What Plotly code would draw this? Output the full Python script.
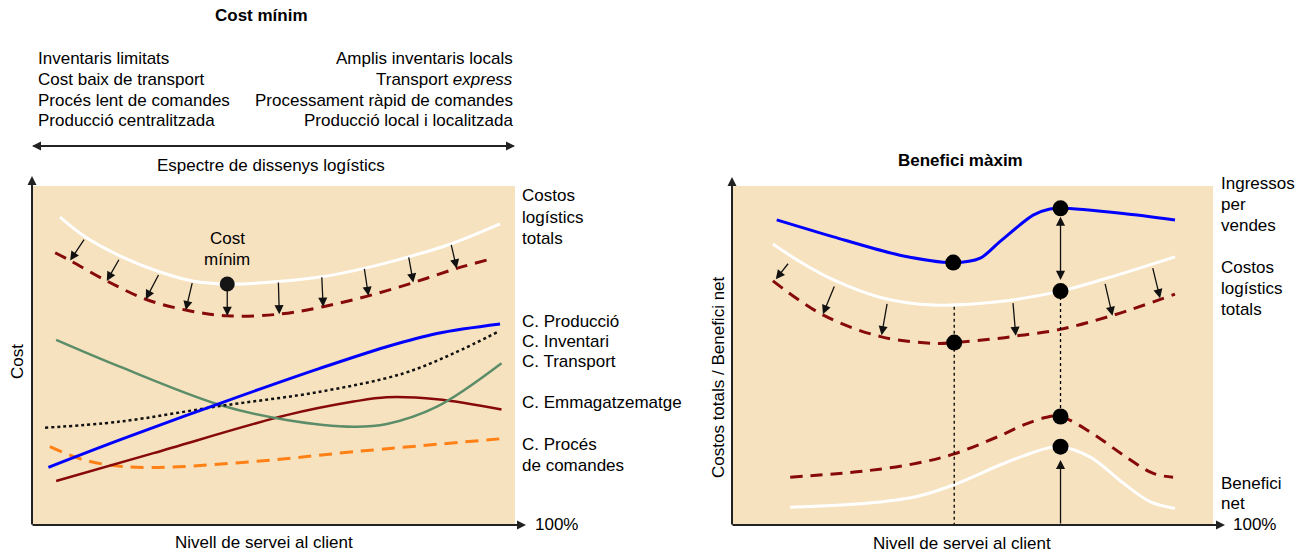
import plotly.graph_objects as go

W, H = 1311, 554
FONT = "Arial, Liberation Sans, sans-serif"
BG = "#F7E2BF"
DARKRED = "#870A0A"

# ---------------- Left panel: cost components vs. service level ----------------
svc_total = [5.6, 10.8, 18.0, 26.2, 33.1, 40.3, 50.9, 59.9, 68.7, 77.9, 86.7, 96.9]
cost_total = [90.8, 85.0, 79.4, 74.7, 72.0, 71.1, 71.8, 73.2, 75.7, 79.1, 82.9, 88.8]
svc_total_opt = [4.6, 7.7, 15.3, 23.4, 31.7, 40.3, 51.1, 60.2, 69.6, 78.9, 87.9, 94.8]
cost_total_opt = [80.3, 78.0, 72.0, 66.6, 63.4, 61.7, 62.2, 64.4, 67.6, 71.5, 75.7, 78.4]

svc_prod = [3.2, 18.0, 38.8, 59.5, 73.4, 83.8, 96.9]
cost_prod = [17.0, 25.1, 35.9, 46.2, 52.6, 56.5, 59.3]
svc_inv = [2.5, 18.0, 38.8, 59.5, 76.8, 87.2, 96.5]
cost_inv = [28.7, 30.5, 35.1, 39.3, 44.7, 50.6, 57.0]
svc_transp = [4.8, 18.0, 38.8, 52.6, 66.5, 73.4, 83.8, 97.2]
cost_transp = [54.6, 46.7, 35.4, 31.0, 29.0, 29.8, 34.9, 47.7]
svc_stock = [4.8, 25.0, 52.6, 66.5, 73.4, 83.8, 97.2]
cost_stock = [13.0, 21.2, 32.4, 36.4, 37.7, 37.1, 34.1]
svc_order = [3.5, 11.1, 21.5, 45.7, 66.5, 98.3]
cost_order = [23.1, 19.0, 17.0, 18.7, 21.6, 25.6]

min_cost_x, min_cost_y = [40.3], [71.1]

# shift of the total-cost curve (from -> to)
shiftL_from_x = [10.8, 18.0, 26.2, 33.1, 40.3, 50.9, 59.9, 68.7, 77.9, 86.7]
shiftL_from_y = [84.6, 78.7, 74.2, 71.8, 70.8, 72.0, 73.5, 76.0, 79.4, 83.1]
shiftL_to_x = [7.7, 15.3, 23.4, 31.7, 40.3, 51.1, 60.2, 69.6, 78.9, 87.9]
shiftL_to_y = [78.0, 72.0, 66.6, 63.4, 61.7, 62.2, 64.4, 67.6, 71.5, 75.7]

# ---------------- Right panel: revenue, costs and net profit ----------------
svc_rev = [9.3, 21.1, 34.9, 46.0, 51.6, 55.7, 62.6, 66.1, 68.3, 81.3, 92.1]
revenue = [90.0, 85.0, 79.6, 77.4, 78.7, 83.6, 91.4, 93.2, 93.4, 91.9, 90.0]
svc_costR = [8.5, 14.1, 21.1, 31.5, 41.9, 55.7, 68.3, 77.9, 92.1]
costR = [82.9, 77.7, 72.3, 66.9, 64.9, 65.9, 69.0, 72.8, 79.1]
svc_costR_opt = [8.5, 19.0, 31.1, 41.9, 46.2, 55.7, 59.2, 68.2, 79.3, 92.1]
costR_opt = [72.0, 61.9, 55.5, 53.6, 53.8, 55.1, 55.8, 57.7, 61.9, 68.1]
svc_profit_opt = [12.1, 28.0, 38.4, 46.0, 55.7, 60.6, 65.4, 68.3, 74.4, 81.4, 87.6, 91.7]
profit_opt = [14.1, 16.0, 18.2, 20.9, 26.3, 29.5, 31.8, 32.0, 27.5, 20.6, 15.2, 14.1]
svc_profit = [12.1, 28.0, 38.4, 46.0, 55.7, 60.6, 65.4, 68.3, 74.4, 81.4, 86.9, 92.1]
profit = [5.2, 6.4, 8.4, 11.8, 17.7, 20.4, 22.6, 23.1, 20.1, 12.3, 6.9, 4.9]

min_svc, max_svc = 46.2, 68.3
key_x = [46.0, 68.3, 68.3, 46.2, 68.3, 68.3]
key_y = [77.4, 93.4, 69.0, 53.8, 32.0, 23.1]

shiftR_from_x = [11.9, 21.4, 32.3, 58.4, 77.5, 87.4]
shiftR_from_y = [77.5, 70.8, 65.7, 65.9, 71.6, 76.2]
shiftR_to_x = [9.1, 18.9, 31.1, 59.0, 79.1, 89.0]
shiftR_to_y = [72.5, 62.2, 56.0, 55.8, 61.7, 66.9]

margin_top, margin_bottom = 91.4, 72.3   # revenue minus cost gap
guide_min_top = 64.4
guide_max_top, guide_max_bottom = 69.0, 32.0
profit_arrow_top = 19.2

# ---------------- Text ----------------
left_traits = ["Inventaris limitats", "Cost baix de transport",
               "Procés lent de comandes", "Producció centralitzada"]
right_traits = ["Amplis inventaris locals", "Transport <i>express</i>",
                "Processament ràpid de comandes", "Producció local i localitzada"]
left_labels = ["Costos", "logístics", "totals", "C. Producció", "C. Inventari",
               "C. Transport", "C. Emmagatzematge", "C. Procés", "de comandes"]
left_label_rows = [196, 217, 238, 321, 341, 361, 402, 444, 465]
right_labels = ["Ingressos", "per", "vendes", "Costos", "logístics", "totals",
                "Benefici", "net"]
right_label_rows = [183, 204, 225, 267, 288, 309, 483, 503]

fig = go.Figure()


def line(x, y, color, width, dash="solid", ax="", smoothing=1.0):
    fig.add_trace(go.Scatter(
        x=x, y=y, mode="lines", xaxis="x" + ax, yaxis="y" + ax,
        line=dict(color=color, width=width, dash=dash, shape="spline",
                  smoothing=smoothing),
        hoverinfo="skip", showlegend=False))


# left panel curves
line(svc_order, cost_order, "#FF8015", 3, "13px,8px")
line(svc_stock, cost_stock, DARKRED, 2.5)
line(svc_transp, cost_transp, "#5C8D69", 2.5)
line(svc_inv, cost_inv, "#111111", 2.5, "dot")
line(svc_prod, cost_prod, "#0000FF", 3)
line(svc_total, cost_total, "white", 3)
line(svc_total_opt, cost_total_opt, DARKRED, 3, "12px,8px")

# right panel curves
line(svc_profit, profit, "white", 3, ax="2")
line(svc_profit_opt, profit_opt, DARKRED, 3, "12px,8px", ax="2")
line(svc_costR, costR, "white", 3, ax="2")
line(svc_costR_opt, costR_opt, DARKRED, 3, "12px,8px", ax="2")
line(svc_rev, revenue, "#0000FF", 3, ax="2", smoothing=0.8)

# dotted guides
for gx, gy in [([min_svc, min_svc], [guide_min_top, 0]),
               ([max_svc, max_svc], [guide_max_top, guide_max_bottom])]:
    fig.add_trace(go.Scatter(x=gx, y=gy, mode="lines", xaxis="x2", yaxis="y2",
                             line=dict(color="black", width=1.3, dash="3px,3px"),
                             hoverinfo="skip", showlegend=False))

# key points
fig.add_trace(go.Scatter(x=min_cost_x, y=min_cost_y, mode="markers",
                         marker=dict(color="#151515", size=15),
                         hoverinfo="skip", showlegend=False))
fig.add_trace(go.Scatter(x=key_x, y=key_y, mode="markers", xaxis="x2", yaxis="y2",
                         marker=dict(color="black", size=16),
                         hoverinfo="skip", showlegend=False))

annotations = []


def arrow(x0, y0, x1, y1, ax="", side="end"):
    annotations.append(dict(
        x=x1, y=y1, ax=x0, ay=y0, xref="x" + ax, yref="y" + ax,
        axref="x" + ax, ayref="y" + ax, text="", showarrow=True,
        arrowhead=2, arrowsize=1.4, arrowwidth=1.3, arrowcolor="#111111",
        arrowside=side, standoff=0, startstandoff=0))


for a, b, c, d in zip(shiftL_from_x, shiftL_from_y, shiftL_to_x, shiftL_to_y):
    arrow(a, b, c, d)
for a, b, c, d in zip(shiftR_from_x, shiftR_from_y, shiftR_to_x, shiftR_to_y):
    arrow(a, b, c, d, ax="2")
arrow(max_svc, margin_top, max_svc, margin_bottom, ax="2", side="end+start")
arrow(max_svc, 0, max_svc, profit_arrow_top, ax="2")


def px_x(px):
    return px / W


def px_y(py):
    return 1 - py / H


def text(s, px, py, anchor="left", bold=False, angle=0):
    annotations.append(dict(
        text=f"<b>{s}</b>" if bold else s, x=px_x(px), y=px_y(py),
        xref="paper", yref="paper", xanchor=anchor, yanchor="middle",
        showarrow=False, textangle=angle,
        font=dict(family=FONT, size=17, color="black")))


def axis_arrow(tip_x, tip_y, tail_x, tail_y, width=2):
    annotations.append(dict(
        x=px_x(tip_x), y=px_y(tip_y), xref="paper", yref="paper",
        ax=tail_x - tip_x, ay=tail_y - tip_y, axref="pixel", ayref="pixel",
        text="", showarrow=True, arrowhead=2, arrowsize=0.9, arrowwidth=width,
        arrowcolor="#222222", standoff=0))


# titles and design spectrum
text("Cost mínim", 261, 16, "center", bold=True)
text("Benefici màxim", 960, 160, "center", bold=True)
for i, s in enumerate(left_traits):
    text(s, 36, 59 + i * 20.6)
for i, s in enumerate(right_traits):
    text(s, 515, 59 + i * 20.6, "right")
axis_arrow(515, 146, 32, 146)
axis_arrow(32, 146, 515, 146)
text("Espectre de dissenys logístics", 271, 165, "center")

# annotation of the minimum-cost point
text("Cost", 227, 238, "center")
text("mínim", 227, 259, "center")

# series labels
for s, r in zip(left_labels, left_label_rows):
    text(s, 520, r)
for s, r in zip(right_labels, right_label_rows):
    text(s, 1219, r)

# axes with arrowheads
axis_arrow(32, 176, 32, 526)
axis_arrow(526, 525, 31, 525)
axis_arrow(732, 177, 732, 526)
axis_arrow(1225, 525, 731, 525)
text("100%", 533, 524)
text("100%", 1231, 524)
text("Nivell de servei al client", 264, 542, "center")
text("Nivell de servei al client", 962, 543, "center")
text("Cost", 17, 362, "center", angle=-90)
text("Costos totals / Benefici net", 718, 377, "center", angle=-90)

axis_common = dict(range=[0, 100], showgrid=False, zeroline=False,
                   showticklabels=False, ticks="", showline=False, fixedrange=True)
fig.update_layout(
    width=W, height=H, margin=dict(l=0, r=0, t=0, b=0),
    paper_bgcolor="white", plot_bgcolor=BG,
    xaxis=dict(domain=[33 / W, 515 / W], **axis_common),
    yaxis=dict(domain=[px_y(525), px_y(186)], **axis_common),
    xaxis2=dict(domain=[732 / W, 1213 / W], anchor="y2", **axis_common),
    yaxis2=dict(domain=[px_y(525), px_y(186)], anchor="x2", **axis_common),
    annotations=annotations,
    font=dict(family=FONT),
)

fig.write_html("out.html")
